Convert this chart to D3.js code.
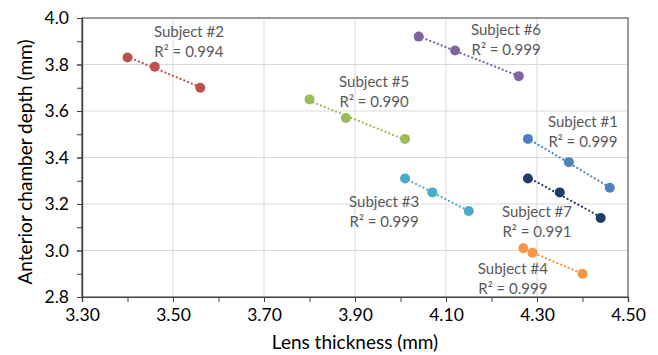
<!DOCTYPE html>
<html>
<head>
<meta charset="utf-8">
<script src="https://cdn.jsdelivr.net/npm/d3@7"></script>
<style>
	body { margin: 0; background: #fff; }
	text { font-family: Lato, "Open Sans", sans-serif; }
</style>
</head>
<body>
<svg id="graph" width="658" height="355"></svg>
<script>
// subjects and their measurements (lens thickness mm, anterior chamber depth mm)
var subjects = ["Subject #1", "Subject #2", "Subject #3", "Subject #4", "Subject #5", "Subject #6", "Subject #7"];
var r2Values = ["0.999", "0.994", "0.999", "0.999", "0.990", "0.999", "0.991"];
var lensThickness = [
	[4.28, 4.37, 4.46],
	[3.40, 3.46, 3.56],
	[4.01, 4.07, 4.15],
	[4.27, 4.29, 4.40],
	[3.80, 3.88, 4.01],
	[4.04, 4.12, 4.26],
	[4.28, 4.35, 4.44]
];
var chamberDepth = [
	[3.48, 3.38, 3.27],
	[3.83, 3.79, 3.70],
	[3.31, 3.25, 3.17],
	[3.01, 2.99, 2.90],
	[3.65, 3.57, 3.48],
	[3.92, 3.86, 3.75],
	[3.31, 3.25, 3.14]
];
var xTicks = [3.30, 3.50, 3.70, 3.90, 4.10, 4.30, 4.50];
var yTicks = [2.8, 3.0, 3.2, 3.4, 3.6, 3.8, 4.0];

// styling / layout
var colors = ["#4f81bd", "#c0504d", "#4bacc6", "#f79646", "#9bbb59", "#8064a2", "#1f3d6b"];
// label centre (data coords) for each subject
var labelPos = [[4.401, 3.514], [3.535, 3.901], [3.964, 3.170], [4.247, 2.882], [3.942, 3.686], [4.232, 3.910], [4.300, 3.127]];

var svg = d3.select("#graph");
var mLeft = 82, mRight = 628, mTop = 18, mBottom = 297;

var xScale = d3.scaleLinear().domain([3.3, 4.5]).range([mLeft, mRight]);
var yScale = d3.scaleLinear().domain([2.8, 4.0]).range([mBottom, mTop]);

// grid
svg.append("g").selectAll("line")
	.data(xTicks.slice(1, -1))
	.enter().append("line")
	.attr("x1", function(d){ return xScale(d); })
	.attr("x2", function(d){ return xScale(d); })
	.attr("y1", mTop).attr("y2", mBottom)
	.attr("stroke", "#d9d9d9").attr("stroke-width", 1);

svg.append("g").selectAll("line")
	.data(yTicks.slice(1, -1))
	.enter().append("line")
	.attr("y1", function(d){ return yScale(d); })
	.attr("y2", function(d){ return yScale(d); })
	.attr("x1", mLeft).attr("x2", mRight)
	.attr("stroke", "#d9d9d9").attr("stroke-width", 1);

// frame
svg.append("rect")
	.attr("x", mLeft).attr("y", mTop)
	.attr("width", mRight - mLeft).attr("height", mBottom - mTop)
	.attr("fill", "none").attr("stroke", "#595959").attr("stroke-width", 1.2);

// axes with minor ticks
var xMinor = d3.range(3.3, 4.55, 0.1);
var yMinor = d3.range(2.8, 4.05, 0.1);

var gx = svg.append("g").attr("transform", "translate(0," + mBottom + ")");
gx.call(d3.axisBottom(xScale).tickValues(xMinor).tickSize(5).tickFormat(""));
gx.append("g").call(d3.axisBottom(xScale).tickValues(xTicks).tickSize(5).tickPadding(7).tickFormat(d3.format(".2f")));

var gy = svg.append("g").attr("transform", "translate(" + mLeft + ",0)");
gy.call(d3.axisLeft(yScale).tickValues(yMinor).tickSize(5).tickFormat(""));
gy.append("g").call(d3.axisLeft(yScale).tickValues(yTicks).tickSize(5).tickPadding(8).tickFormat(d3.format(".1f")));

svg.selectAll(".domain").attr("stroke", "#404040").attr("stroke-width", 1.2);
svg.selectAll(".tick line").attr("stroke", "#404040");
svg.selectAll(".tick text").attr("font-size", "17.5px").attr("fill", "#000")
	.style("font-family", "Lato, sans-serif");

// axis titles
svg.append("text")
	.attr("x", 355).attr("y", 349)
	.attr("text-anchor", "middle").attr("font-size", "19px")
	.text("Lens thickness (mm)");

svg.append("text")
	.attr("transform", "translate(32,162) rotate(-90)")
	.attr("text-anchor", "middle").attr("font-size", "19px")
	.text("Anterior chamber depth (mm)");

// trendlines (least squares over each subject's points)
function fit(xs, ys) {
	var mx = d3.mean(xs), my = d3.mean(ys);
	var sxy = d3.sum(xs, function(x, i){ return (x - mx) * (ys[i] - my); });
	var sxx = d3.sum(xs, function(x){ return (x - mx) * (x - mx); });
	var b = sxy / sxx;
	return function(x){ return my + b * (x - mx); };
}

subjects.forEach(function(s, k) {
	var xs = lensThickness[k], ys = chamberDepth[k];
	var f = fit(xs, ys);
	var ext = d3.extent(xs);
	svg.append("line")
		.attr("x1", xScale(ext[0])).attr("y1", yScale(f(ext[0])))
		.attr("x2", xScale(ext[1])).attr("y2", yScale(f(ext[1])))
		.attr("stroke", colors[k]).attr("stroke-width", 2.2)
		.attr("stroke-dasharray", "0.1 4").attr("stroke-linecap", "round");
});

subjects.forEach(function(s, k) {
	svg.append("g").selectAll("circle")
		.data(lensThickness[k])
		.enter().append("circle")
		.attr("cx", function(d){ return xScale(d); })
		.attr("cy", function(d, i){ return yScale(chamberDepth[k][i]); })
		.attr("r", 5)
		.attr("fill", colors[k]);
});

// subject labels
subjects.forEach(function(s, k) {
	var cx = xScale(labelPos[k][0]), cy = yScale(labelPos[k][1]);
	var t = svg.append("text")
		.attr("text-anchor", "middle").attr("font-size", "15px").attr("fill", "#595959");
	t.append("tspan").attr("x", cx).attr("y", cy - 4).text(s);
	t.append("tspan").attr("x", cx).attr("y", cy + 16).text("R\u00b2 = " + r2Values[k]);
});
</script>
</body>
</html>
